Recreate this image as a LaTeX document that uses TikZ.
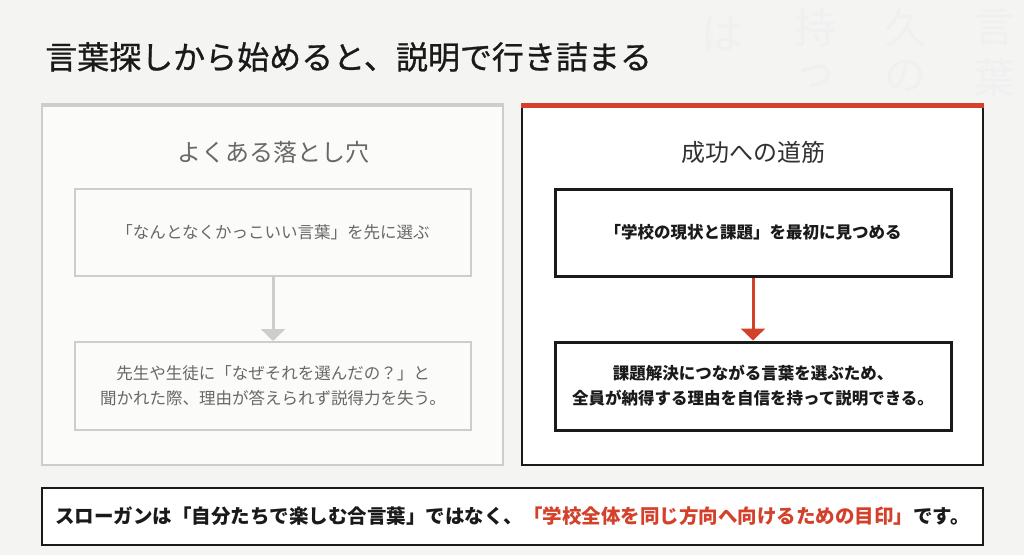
\documentclass[tikz,border=0pt]{standalone}
\usepackage{fontspec}
\newfontfamily\jp{Noto Sans CJK JP}
\newfontfamily\jptitle[FakeBold=0.8]{Noto Sans CJK JP}
\usetikzlibrary{arrows.meta}
\definecolor{bg}{HTML}{F4F4F3}
\definecolor{accent}{HTML}{D4412B}
\definecolor{lgray}{HTML}{CDCDCD}
\definecolor{tgray}{HTML}{686868}
\definecolor{ink}{HTML}{1A1A1A}
\begin{document}
\begin{tikzpicture}[x=1pt,y=-1pt,font=\jp,
  panel/.style={rectangle,inner sep=0pt,minimum width=461,minimum height=360},
  stepbox/.style={rectangle,inner sep=0pt,minimum width=396,minimum height=87,align=center},
  head/.style={font=\jp\fontsize{24}{28}\selectfont,inner sep=0pt},
  body/.style={font=\jp\fontsize{16.5}{25}\selectfont},
  watermark/.style={text=black!6,font=\jp\fontsize{42}{46}\selectfont,inner sep=0pt}]
\fill[bg] (0,0) rectangle (1024,555);
\useasboundingbox (0,0) rectangle (1024,555);
% faint calligraphy background
\node[watermark] (w1) at (994,28) {言};
\node[watermark] (w2) at (994,78) {葉};
\node[watermark] (w3) at (905,28) {久};
\node[watermark] (w4) at (905,76) {の};
\node[watermark] (w5) at (815,28) {持};
\node[watermark] (w6) at (815,76) {っ};
\node[watermark] (w7) at (722,34) {は};
% title
\node[anchor=west,inner sep=0pt,text=ink,font=\jptitle\fontsize{32}{35}\selectfont] (title) at (45,57) {言葉探しから始めると、説明で行き詰まる};
% left panel
\node[panel,fill=white!60!bg,draw=lgray,line width=1.5pt] (lp) at (272.5,285) {};
\draw[lgray,line width=4pt] ([yshift=-1pt]lp.north west) -- ([yshift=-1pt]lp.north east);
\node[head,text=tgray] (lh) at (273,152) {よくある落とし穴};
\node[stepbox,draw=lgray,line width=2pt,fill=white!60!bg,body,text=tgray] (l1) at (273,232.5) {「なんとなくかっこいい言葉」を先に選ぶ};
\node[stepbox,draw=lgray,line width=2pt,fill=white!60!bg,body,text=tgray,minimum height=88] (l2) at (273,386) {先生や生徒に「なぜそれを選んだの？」と\\聞かれた際、理由が答えられず説得力を失う。};
\draw[lgray,line width=3pt,-{Triangle[width=24pt,length=12pt]}] (l1.south) -- (l2.north);
% right panel
\node[panel,fill=white,draw=ink,line width=1.3pt] (rp) at (752.5,285) {};
\draw[accent,line width=5pt] ([yshift=-1.5pt]rp.north west) -- ([yshift=-1.5pt]rp.north east);
\node[head,text=ink!90] (rh) at (753,152) {成功への道筋};
\node[stepbox,draw=ink,line width=3pt,fill=white,body,text=ink,font=\jp\bfseries\fontsize{16.5}{25}\selectfont] (r1) at (753,232.5) {「学校の現状と課題」を最初に見つめる};
\node[stepbox,draw=ink,line width=3pt,fill=white,body,text=ink,font=\jp\bfseries\fontsize{16.5}{25}\selectfont,minimum height=88] (r2) at (753,386) {課題解決につながる言葉を選ぶため、\\全員が納得する理由を自信を持って説明できる。};
\draw[accent,line width=3pt,-{Triangle[width=24pt,length=12pt]}] (r1.south) -- (r2.north);
% bottom slogan
\node[rectangle,inner sep=0pt,minimum width=941,minimum height=57,draw=ink,line width=2pt,fill=white,text=ink,font=\jp\bfseries\fontsize{19.5}{22}\selectfont] (slogan) at (512.5,516.5) {スローガンは「自分たちで楽しむ合言葉」ではなく、\textcolor{accent}{「学校全体を同じ方向へ向けるための目印」}です。};
\end{tikzpicture}
\end{document}
